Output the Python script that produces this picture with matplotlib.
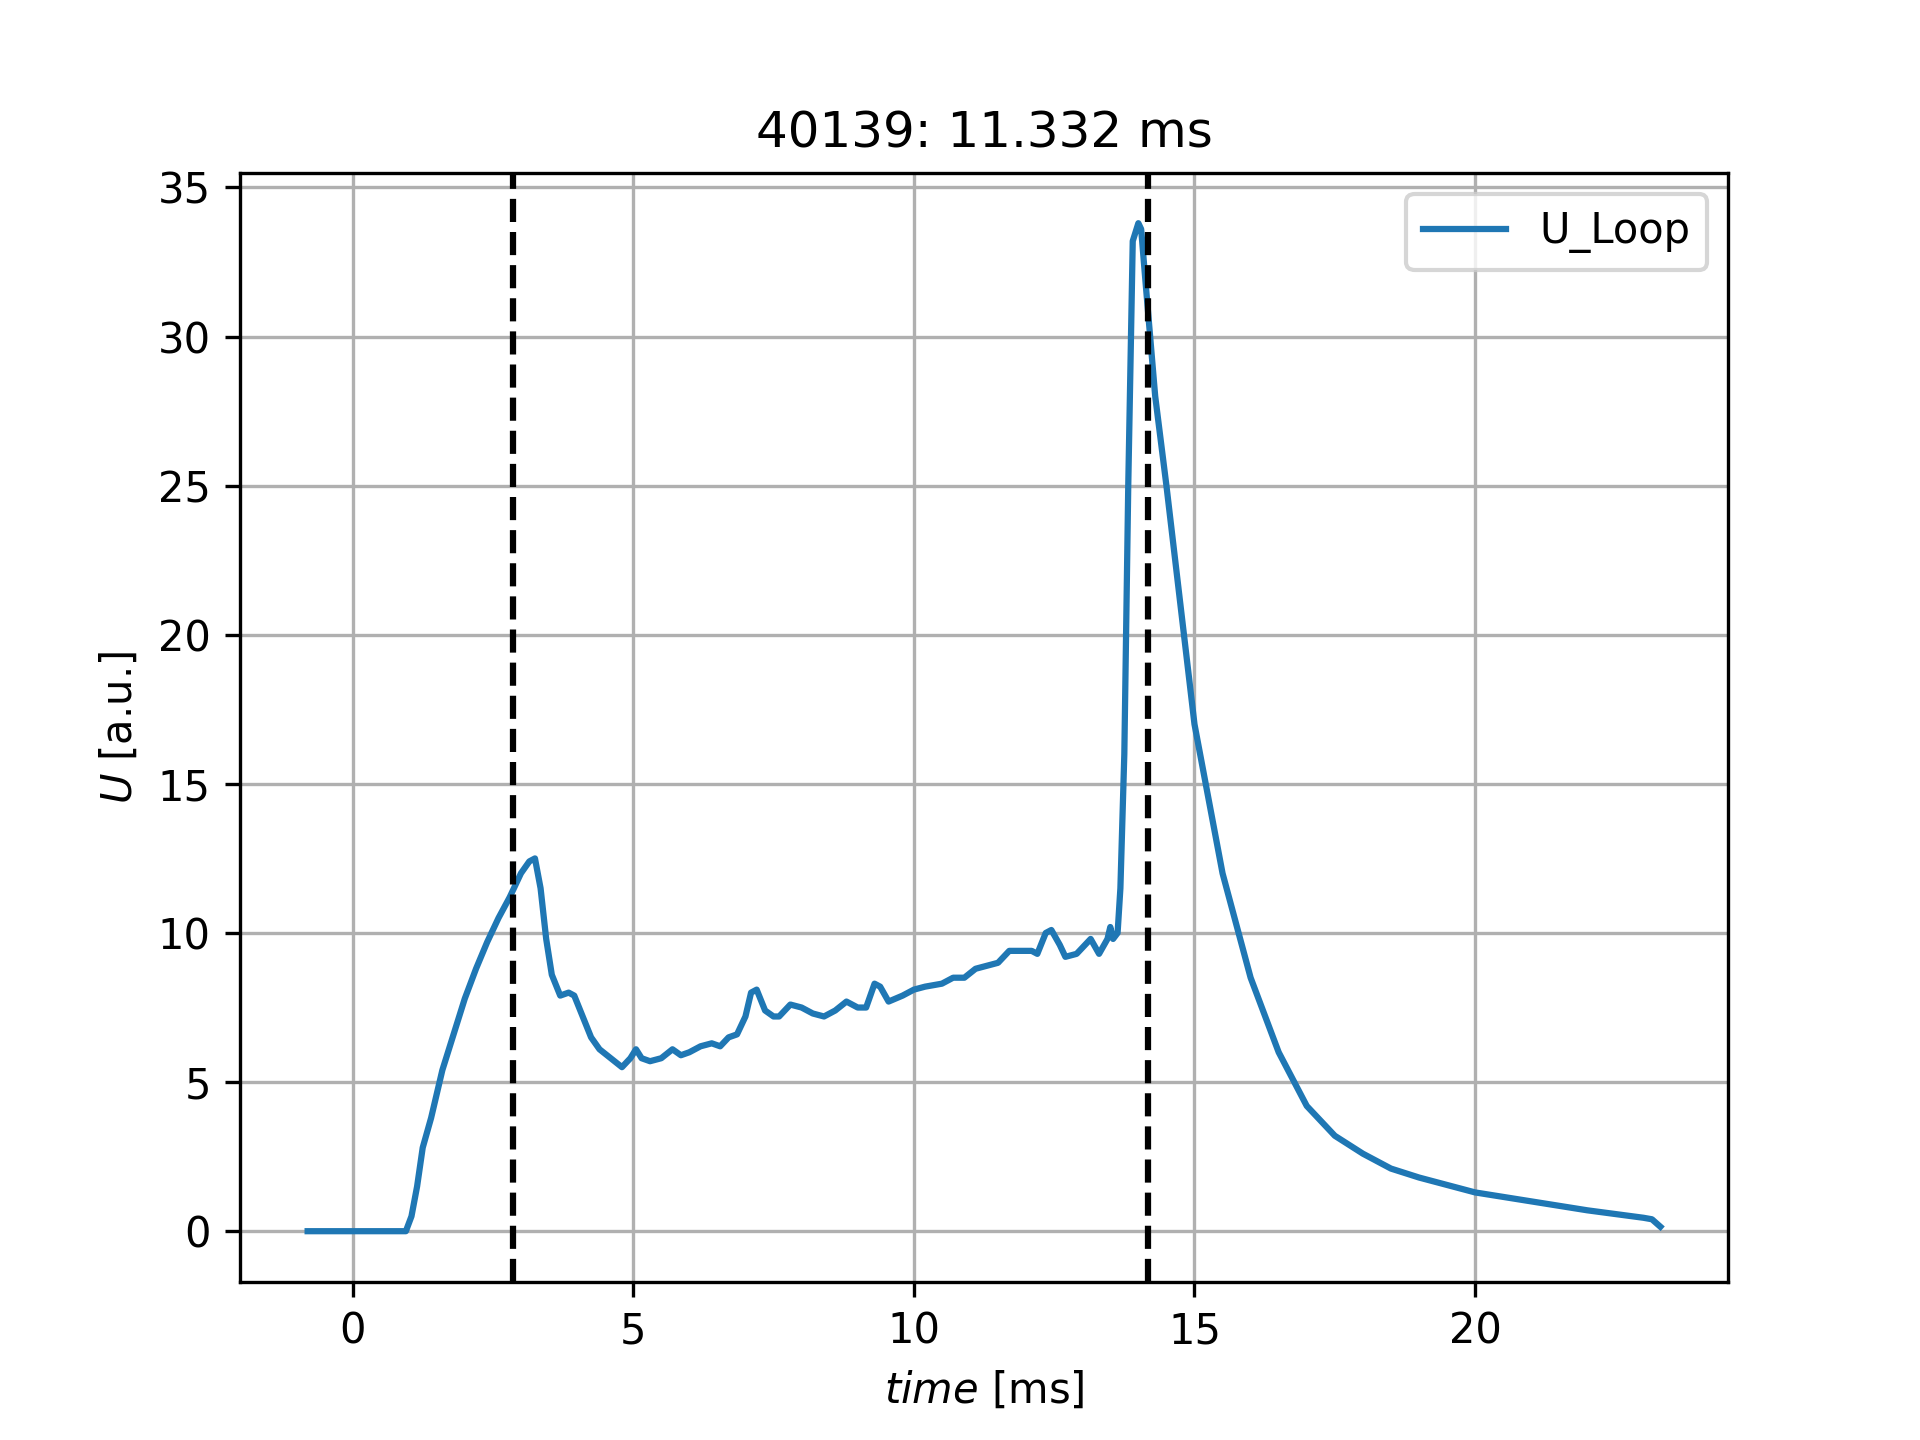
import matplotlib
matplotlib.use("Agg")
import matplotlib.pyplot as plt

time = [-0.8,0,0.95,1.05,1.15,1.25,1.4,1.5,1.6,1.8,2.0,2.2,2.4,2.6,2.8,3.0,3.15,3.25,3.35,3.45,3.55,3.7,3.85,3.95,4.1,4.25,4.4,4.6,4.8,4.95,5.05,5.15,5.3,5.5,5.7,5.85,6.0,6.2,6.4,6.55,6.7,6.85,7.0,7.1,7.2,7.35,7.5,7.6,7.8,8.0,8.2,8.4,8.6,8.8,9.0,9.15,9.3,9.4,9.55,9.8,10.0,10.2,10.5,10.7,10.9,11.1,11.3,11.5,11.7,11.9,12.1,12.2,12.35,12.45,12.6,12.7,12.9,13.05,13.15,13.3,13.45,13.5,13.55,13.63,13.68,13.75,13.82,13.9,14.0,14.05,14.12,14.3,14.5,14.75,15.0,15.5,16.0,16.5,17.0,17.5,18.0,18.5,19,20,21,22,23,23.15,23.3]
u_loop = [0,0,0,0.5,1.5,2.8,3.8,4.6,5.4,6.6,7.8,8.8,9.7,10.5,11.2,12.0,12.4,12.5,11.5,9.8,8.6,7.9,8.0,7.9,7.2,6.5,6.1,5.8,5.5,5.8,6.1,5.8,5.7,5.8,6.1,5.9,6.0,6.2,6.3,6.2,6.5,6.6,7.2,8.0,8.1,7.4,7.2,7.2,7.6,7.5,7.3,7.2,7.4,7.7,7.5,7.5,8.3,8.2,7.7,7.9,8.1,8.2,8.3,8.5,8.5,8.8,8.9,9.0,9.4,9.4,9.4,9.3,10.0,10.1,9.6,9.2,9.3,9.6,9.8,9.3,9.8,10.2,9.8,10.0,11.5,16,25,33.2,33.8,33.6,32,28,25,21,17.0,12,8.5,6.0,4.2,3.2,2.6,2.1,1.8,1.3,1.0,0.7,0.45,0.4,0.15]
vlines = [2.85, 14.17]

fig, ax = plt.subplots(figsize=(6.4, 4.8), dpi=300)
ax.plot(time, u_loop, label="U_Loop")
for v in vlines:
    ax.axvline(v, color="k", ls="--")
ax.grid(True)
ax.set_xlabel(r"$time$ [ms]")
ax.set_ylabel(r"$U$ [a.u.]")
ax.set_title("40139: 11.332 ms")
ax.legend(loc="upper right")
fig.savefig("out.png")
